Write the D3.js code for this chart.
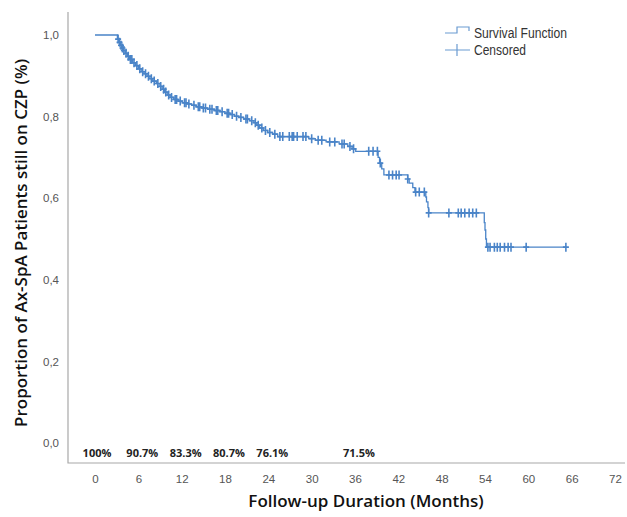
<!DOCTYPE html>
<html>
<head>
<meta charset="utf-8">
<script src="https://cdn.jsdelivr.net/npm/d3@7"></script>
<style>
  body { margin: 0; background: #fff; }
  svg { display: block; }
</style>
</head>
<body>
<div id="chart"></div>
<script>
var svgWidth = 627;
var svgHeight = 517;

// event times (months) and survival right after each event
var eventTimes = [3.1, 3.3, 3.5, 3.7, 3.9, 4.2, 4.5, 4.8, 5.2, 5.6, 6.0, 6.4, 6.8, 7.2, 7.6, 8.0, 8.5, 9.0, 9.3, 9.6,
  10.0, 10.4, 10.9, 11.5, 12.1, 12.8, 13.4, 14.0, 14.8, 15.6, 16.5, 17.3, 18.0, 18.7, 19.3, 19.9, 20.6, 21.4, 22.0, 22.4,
  22.8, 23.3, 23.9, 24.6, 25.3, 29.6, 30.5, 32.0, 33.8, 35.0, 35.6, 36.1, 39.2, 39.4, 39.7, 40.0, 43.3, 43.5, 44.0, 44.3,
  45.8, 45.9, 46.1, 46.2, 53.9, 54.0, 54.1, 54.2];
var survival = [0.990, 0.982, 0.975, 0.968, 0.962, 0.955, 0.948, 0.940, 0.932, 0.925, 0.917, 0.910, 0.905, 0.899, 0.893, 0.887, 0.881, 0.874, 0.867, 0.860,
  0.853, 0.847, 0.842, 0.838, 0.834, 0.831, 0.828, 0.824, 0.821, 0.818, 0.815, 0.812, 0.808, 0.805, 0.801, 0.798, 0.794, 0.790, 0.785, 0.779,
  0.772, 0.766, 0.761, 0.757, 0.751, 0.746, 0.742, 0.738, 0.733, 0.727, 0.721, 0.715, 0.700, 0.686, 0.672, 0.657, 0.647, 0.637, 0.626, 0.615,
  0.603, 0.591, 0.577, 0.564, 0.540, 0.522, 0.500, 0.480];

// censored observations (months)
var censoredTimes = [3.2, 3.4, 3.6, 3.8, 4.0, 4.3, 4.6, 4.9, 5.1, 5.4, 5.8, 6.2, 6.6, 7.0, 7.4, 7.8, 8.2, 8.7, 9.1, 9.5,
  9.8, 10.2, 10.6, 11.1, 11.3, 11.8, 12.4, 12.6, 13.0, 13.7, 14.3, 14.5, 15.0, 15.3, 15.9, 16.2, 16.8, 17.0, 17.6, 18.3,
  18.5, 19.0, 19.6, 20.2, 20.9, 21.1, 21.7, 22.2, 22.6, 23.1, 23.6, 24.2, 24.9, 25.6, 26.0, 26.9, 27.3, 27.5, 28.0, 28.8,
  29.2, 30.0, 30.9, 31.4, 32.5, 33.2, 34.2, 34.5, 35.3, 35.8, 37.9, 38.5, 39.1, 39.5, 40.7, 41.2, 41.7, 42.1, 43.3, 44.4,
  44.9, 45.6, 46.2, 49.0, 50.3, 50.7, 51.2, 51.8, 52.3, 52.8, 54.4, 54.7, 55.3, 55.7, 56.1, 56.7, 57.2, 57.6, 59.7, 65.2];

var xTicks = [0, 6, 12, 18, 24, 30, 36, 42, 48, 54, 60, 66, 72];
var yTicks = [0, 0.2, 0.4, 0.6, 0.8, 1.0];

var pctMonths = [0, 6, 12, 18, 24, 36];
var pctLabels = ["100%", "90.7%", "83.3%", "80.7%", "76.1%", "71.5%"];

var lineColor = "#4a84c8";

var svg = d3.select("#chart")
  .append("svg")
  .attr("width", svgWidth)
  .attr("height", svgHeight);

var xScale = d3.scaleLinear().domain([0, 72]).range([95, 615]);
var yScale = d3.scaleLinear().domain([0, 1]).range([443, 35]);

// axis frame (left + bottom)
svg.append("path")
  .attr("d", "M68,12V463H625")
  .attr("fill", "none")
  .attr("stroke", "#a8a8a8")
  .attr("stroke-width", 1.2);

var bottomAxis = d3.axisBottom(xScale).tickValues(xTicks).tickSize(0).tickPadding(0);
var xAxis = svg.append("g")
  .attr("transform", "translate(0,475)")
  .call(bottomAxis);
xAxis.select(".domain").remove();
xAxis.selectAll("text")
  .attr("fill", "#555")
  .style("font-family", "'Liberation Sans', Arial, sans-serif")
  .style("font-size", "11.5px");

var leftAxis = d3.axisLeft(yScale).tickValues(yTicks).tickSize(0).tickPadding(0)
  .tickFormat(d => d3.format(".1f")(d).replace(".", ","));
var yAxis = svg.append("g")
  .attr("transform", "translate(59,0)")
  .call(leftAxis);
yAxis.select(".domain").remove();
yAxis.selectAll("text")
  .attr("fill", "#555")
  .style("font-family", "'Liberation Sans', Arial, sans-serif")
  .style("font-size", "11.5px");

// survival curve
var pts = [[0, 1]];
eventTimes.forEach(function(t, i) { pts.push([t, survival[i]]); });
pts.push([d3.max(censoredTimes), survival[survival.length - 1]]);

var line = d3.line()
  .x(d => xScale(d[0]))
  .y(d => yScale(d[1]))
  .curve(d3.curveStepAfter);

svg.append("path")
  .datum(pts)
  .attr("d", line)
  .attr("fill", "none")
  .attr("stroke", lineColor)
  .attr("stroke-width", 1.3);

function survAt(t) {
  var s = 1;
  for (var i = 0; i < eventTimes.length; i++) {
    if (eventTimes[i] <= t) s = survival[i];
  }
  return s;
}

// censored marks
svg.append("g").selectAll("path")
  .data(censoredTimes)
  .enter()
  .append("path")
  .attr("d", function(t) {
    var cx = xScale(t), cy = yScale(survAt(t));
    return "M" + cx + "," + (cy - 4.5) + "V" + (cy + 4.5) + "M" + (cx - 3) + "," + cy + "H" + (cx + 3);
  })
  .attr("fill", "none")
  .attr("stroke", lineColor)
  .attr("stroke-width", 1.6);

// percentage annotations
svg.append("g").selectAll("text")
  .data(pctLabels)
  .enter()
  .append("text")
  .attr("x", (d, i) => xScale(pctMonths[i]) + (i == 0 ? 2 : 4))
  .attr("y", 457)
  .attr("text-anchor", "middle")
  .attr("fill", "#222")
  .style("font-family", "'Open Sans', sans-serif")
  .style("font-weight", "700")
  .style("font-size", "11px")
  .text(d => d);

// axis titles
svg.append("text")
  .attr("x", 366)
  .attr("y", 507)
  .attr("text-anchor", "middle")
  .attr("fill", "#111")
  .style("font-family", "'Open Sans', sans-serif")
  .style("font-weight", "600")
  .style("font-size", "17px")
  .text("Follow-up Duration (Months)");

svg.append("text")
  .attr("transform", "translate(27,243) rotate(-90)")
  .attr("text-anchor", "middle")
  .attr("fill", "#111")
  .style("font-family", "'Open Sans', sans-serif")
  .style("font-weight", "600")
  .style("font-size", "17px")
  .text("Proportion of Ax-SpA Patients still on CZP (%)");

// legend
var legend = svg.append("g");
legend.append("path")
  .attr("d", "M445,33H457V27H469V31")
  .attr("fill", "none")
  .attr("stroke", "#6b9bd1")
  .attr("stroke-width", 1.2);
legend.append("path")
  .attr("d", "M445,50H470M457,44V56")
  .attr("fill", "none")
  .attr("stroke", "#6b9bd1")
  .attr("stroke-width", 1.2);
var legendNames = ["Survival Function", "Censored"];
var legendWidths = [93, 52];
legend.selectAll("text")
  .data(legendNames)
  .enter()
  .append("text")
  .attr("x", 474)
  .attr("y", (d, i) => 38 + i * 17)
  .attr("fill", "#333")
  .attr("textLength", (d, i) => legendWidths[i])
  .attr("lengthAdjust", "spacingAndGlyphs")
  .style("font-family", "'Liberation Sans', Arial, sans-serif")
  .style("font-size", "14px")
  .text(d => d);
</script>
</body>
</html>
